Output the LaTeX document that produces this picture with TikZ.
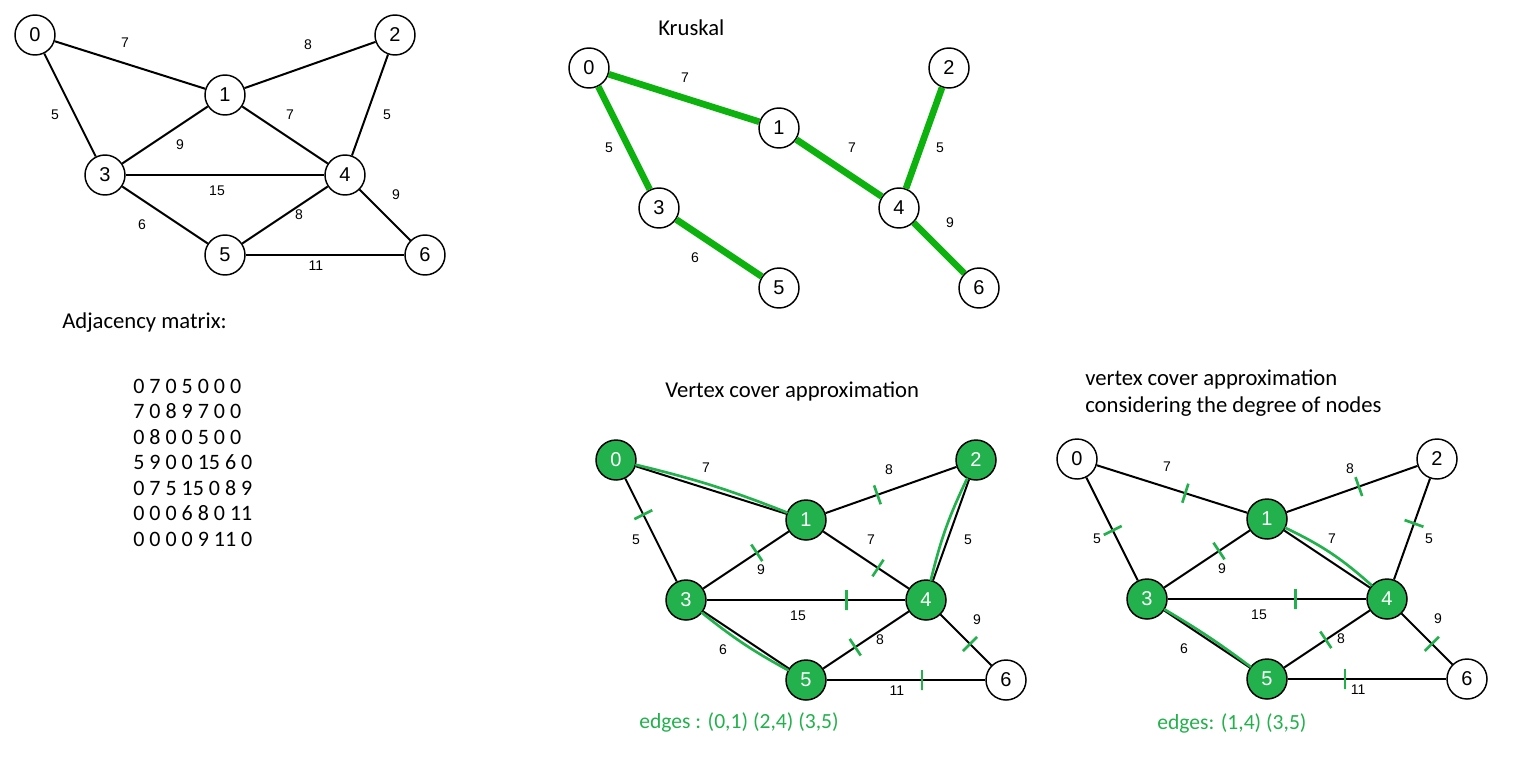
\documentclass[tikz,border=0pt]{standalone}
\usepackage{fontspec}
\setmainfont{Carlito}
\newfontfamily\arialfont{Liberation Sans}
\usepackage{xcolor}
\definecolor{paintgreen}{RGB}{34,177,76}
\definecolor{treegreen}{RGB}{14,178,14}

\tikzset{
  vertex/.style={circle, draw, line width=1.1pt, minimum size=30pt, inner sep=0pt, fill=white, font=\arialfont\fontsize{15}{15}\selectfont},
  picked/.style={fill=paintgreen, text=white},
  weight/.style={font=\arialfont\fontsize{10.5}{10.5}\selectfont},
  link/.style={line width=1.5pt},
  treelink/.style={line width=5pt, treegreen},
  cut/.style={sloped, draw=paintgreen, line width=2pt, minimum height=15pt, minimum width=0pt, inner sep=0pt},
  hilite/.style={paintgreen, line width=2pt, line cap=round},
  title/.style={font=\fontsize{17}{20}\selectfont, anchor=base west, inner sep=0pt},
  result/.style={font=\fontsize{16.2}{19}\selectfont, anchor=base west, inner sep=0pt, paintgreen},
  row/.style={font=\fontsize{16.5}{19}\selectfont, anchor=base west, inner sep=0pt},
  v-0/.style={picked}, v-1/.style={picked}, v-2/.style={picked},
  v-3/.style={picked}, v-4/.style={picked}, v-5/.style={picked},
  d-1/.style={picked}, d-3/.style={picked}, d-4/.style={picked}, d-5/.style={picked}
}

\begin{document}
\begin{tikzpicture}[x=0.75pt, y=-0.75pt]
\useasboundingbox (0,0) rectangle (1526,758);

\foreach \g/\dx/\dy in {g/0/0, k/554/33, v/581/425, d/1042/424}
\foreach \n/\x/\y in {0/35/35, 1/225/95, 2/395/35, 3/105/175, 4/345/175, 5/225/255, 6/425/255}
\node[vertex, \g-\n/.try] (\g-\n) at (\x+\dx, \y+\dy) {\n};

\foreach \g/\dx/\dy in {g/0/0, v/581/425, d/1042/424}
\foreach \i/\j/\w/\x/\y in {0/1/7/125/43, 1/2/8/308/45, 0/3/5/55/115, 1/4/7/290/115, 2/4/5/387/115, 1/3/9/180/145, 3/4/15/217/191, 4/6/9/396/195, 3/5/6/142/225, 4/5/8/299/215, 5/6/11/316/266}{
\draw[link] (\g-\i) -- (\g-\j);
\node[weight] (\g-w\i\j) at (\x+\dx, \y+\dy) {\w};
}

\foreach \i/\j/\w/\x/\y in {0/1/7/131/45, 0/3/5/55/115, 1/4/7/298/115, 2/4/5/386/115, 4/6/9/396/190, 3/5/6/141/225}{
\draw[treelink] (k-\i) -- (k-\j);
\node[weight] (k-w\i\j) at (\x+554, \y+33) {\w};
}

\foreach \g/\i/\j/\t in {v/0/3/.39, v/1/2/.42, v/1/3/.41, v/1/4/.6, v/3/4/.67, v/4/5/.59, v/4/6/.55, v/5/6/.58, d/0/1/.57, d/0/3/.51, d/1/2/.54, d/2/4/.46, d/1/3/.4, d/3/4/.62, d/4/5/.51, d/4/6/.56, d/5/6/.39}
\path (\g-\i.center) -- (\g-\j.center) node[cut, pos=\t] (\g-c\i\j) {};

\draw[hilite] (v-0) to[bend left=4] (v-1);
\draw[hilite] (v-2) to[bend right=6] (v-4);
\draw[hilite] (v-3) to[bend right=5] (v-5);
\draw[hilite] (d-1) to[bend left=8] (d-4);
\draw[hilite] (d-3) to[bend left=3] (d-5);

\node[title] (k-title) at (658,35) {Kruskal};
\node[title] (m-title) at (62,328) {Adjacency matrix:};
\foreach \r [count=\k] in {0 7 0 5 0 0 0, 7 0 8 9 7 0 0, 0 8 0 0 5 0 0, 5 9 0 0 15 6 0, 0 7 5 15 0 8 9, 0 0 0 6 8 0 11, 0 0 0 0 9 11 0}
\node[row] (m-\k) at (133, 367.5+25.5*\k) {\r};

\node[title] (v-title) at (665,397) {Vertex cover approximation};
\node[title] (d-title) at (1085,385) {vertex cover approximation};
\node[title] (d-title2) at (1085,412) {considering the degree of nodes};
\node[result] (v-edges) at (639,728) {edges : (0,1) (2,4) (3,5)};
\node[result] (d-edges) at (1157,729) {edges: (1,4) (3,5)};

\end{tikzpicture}
\end{document}
